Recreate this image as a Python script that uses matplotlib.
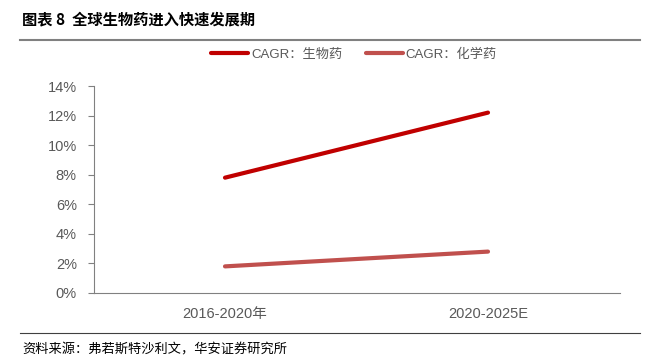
import matplotlib
matplotlib.use("Agg")
import matplotlib.pyplot as plt
from matplotlib.lines import Line2D

plt.rcParams['font.family'] = ['Liberation Sans', 'Noto Sans CJK SC', 'DejaVu Sans']

periods = ["2016-2020年", "2020-2025E"]
bio_cagr = [7.8, 12.2]
chem_cagr = [1.8, 2.8]
series_names = ["CAGR：生物药", "CAGR：化学药"]
yticks = [0, 2, 4, 6, 8, 10, 12, 14]

fig = plt.figure(figsize=(6.54, 3.61), dpi=100)
ax = fig.add_axes([93.5 / 654, (361 - 293) / 361, 526 / 654, 207 / 361])

x = [0.5, 1.5]
ax.plot(x, bio_cagr, color="#C00000", lw=3, solid_capstyle="round", label=series_names[0])
ax.plot(x, chem_cagr, color="#C0504D", lw=3, solid_capstyle="round", label=series_names[1])

ax.set_xlim(0, 2)
ax.set_ylim(0, 14)
ax.set_yticks(yticks)
ax.set_yticklabels([f"{v}%" for v in yticks])
ax.set_xticks(x)
ax.set_xticklabels(periods)
ax.tick_params(axis="y", colors="#808080", labelsize=10.5, length=4, width=0.8, direction="out", pad=8)
ax.tick_params(axis="y", labelcolor="#595959")
ax.tick_params(axis="x", length=0, labelsize=10.5, labelcolor="#595959", pad=10)
for s in ["top", "right"]:
    ax.spines[s].set_visible(False)
ax.spines["left"].set_color("#808080")
ax.spines["bottom"].set_color("#808080")

leg = fig.legend(loc="center", bbox_to_anchor=(354 / 654, 1 - 55 / 361), ncol=2, frameon=False,
                 handlelength=2.8, columnspacing=1.8, handletextpad=0.2,
                 prop={'family': ['Liberation Sans', 'Noto Sans CJK SC'], 'size': 9.5})
for t in leg.get_texts():
    t.set_color("#595959")

# title and rules
fig.text(22 / 654, 1 - 19 / 361, "图表 8  全球生物药进入快速发展期", fontsize=11, fontweight="bold",
         va="center", ha="left", family=['Noto Sans CJK SC'])
fig.add_artist(Line2D([20 / 654, 640 / 654], [1 - 40 / 361] * 2, color="#808080", lw=1.5))
fig.add_artist(Line2D([20 / 654, 640 / 654], [1 - 333 / 361] * 2, color="#404040", lw=0.8))
fig.text(22 / 654, 1 - 350 / 361, "资料来源：弗若斯特沙利文，华安证券研究所", fontsize=9.5,
         va="center", ha="left", family=['Noto Sans CJK SC'])

fig.savefig("out.png", dpi=100)
